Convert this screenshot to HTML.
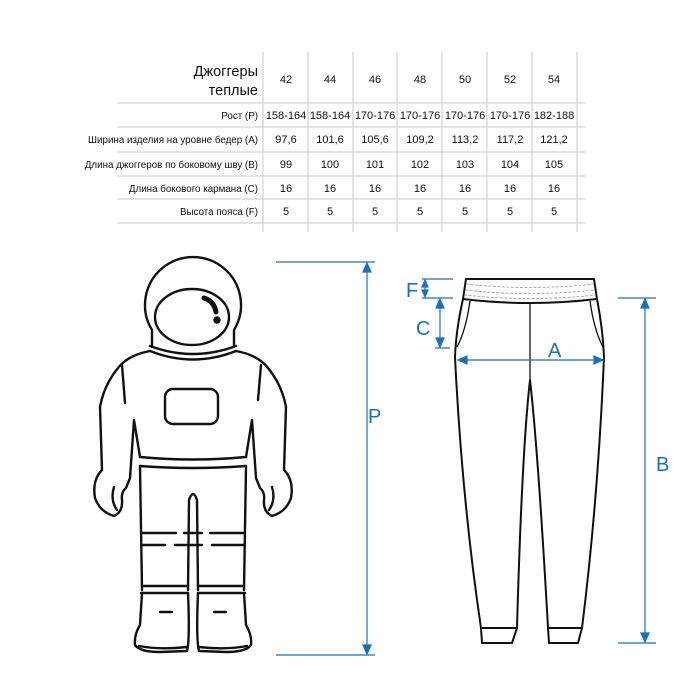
<!DOCTYPE html>
<html><head><meta charset="utf-8"><style>
body{margin:0;background:#fff;width:700px;height:700px;overflow:hidden;font-family:"Liberation Sans","DejaVu Sans",sans-serif}
svg{position:absolute;left:0;top:0}
</style></head><body>
<svg width="700" height="700" viewBox="0 0 700 700" xmlns="http://www.w3.org/2000/svg">
<g stroke="#c8c8c8" stroke-width="1">
<line x1="263" y1="52" x2="263" y2="232"/><line x1="308" y1="52" x2="308" y2="232"/>
<line x1="353" y1="52" x2="353" y2="232"/><line x1="397" y1="52" x2="397" y2="232"/>
<line x1="442" y1="52" x2="442" y2="232"/><line x1="487" y1="52" x2="487" y2="232"/>
<line x1="532" y1="52" x2="532" y2="232"/><line x1="577" y1="52" x2="577" y2="232"/>
<line x1="117" y1="103" x2="585" y2="103"/><line x1="117" y1="127" x2="585" y2="127"/>
<line x1="117" y1="152" x2="585" y2="152"/><line x1="117" y1="176" x2="585" y2="176"/>
<line x1="117" y1="199" x2="585" y2="199"/><line x1="117" y1="223" x2="585" y2="223"/>
</g>
<g font-size="11" fill="#111" text-anchor="middle">
<text x="258" y="76" font-size="14.5" text-anchor="end">Джоггеры</text>
<text x="258" y="95" font-size="14.5" text-anchor="end">теплые</text>
<text x="286" y="83">42</text><text x="330" y="83">44</text><text x="375" y="83">46</text><text x="420" y="83">48</text><text x="465" y="83">50</text><text x="510" y="83">52</text><text x="554" y="83">54</text>
<text x="258" y="119" text-anchor="end" font-size="9.8">Рост (P)</text>
<text x="286" y="119">158-164</text><text x="330" y="119">158-164</text><text x="375" y="119">170-176</text><text x="420" y="119">170-176</text><text x="465" y="119">170-176</text><text x="510" y="119">170-176</text><text x="554" y="119">182-188</text>
<text x="258" y="143" text-anchor="end" font-size="9.8">Ширина изделия на уровне бедер (A)</text>
<text x="286" y="143">97,6</text><text x="330" y="143">101,6</text><text x="375" y="143">105,6</text><text x="420" y="143">109,2</text><text x="465" y="143">113,2</text><text x="510" y="143">117,2</text><text x="554" y="143">121,2</text>
<text x="258" y="168" text-anchor="end" font-size="9.8">Длина джоггеров по боковому шву (B)</text>
<text x="286" y="168">99</text><text x="330" y="168">100</text><text x="375" y="168">101</text><text x="420" y="168">102</text><text x="465" y="168">103</text><text x="510" y="168">104</text><text x="554" y="168">105</text>
<text x="258" y="192" text-anchor="end" font-size="9.8">Длина бокового кармана (C)</text>
<text x="286" y="192">16</text><text x="330" y="192">16</text><text x="375" y="192">16</text><text x="420" y="192">16</text><text x="465" y="192">16</text><text x="510" y="192">16</text><text x="554" y="192">16</text>
<text x="258" y="215" text-anchor="end" font-size="9.8">Высота пояса (F)</text>
<text x="286" y="215">5</text><text x="330" y="215">5</text><text x="375" y="215">5</text><text x="420" y="215">5</text><text x="465" y="215">5</text><text x="510" y="215">5</text><text x="554" y="215">5</text>
</g>

<!-- astronaut -->
<g fill="none" stroke="#111" stroke-width="2.4" stroke-linecap="round" stroke-linejoin="round">
<path d="M152 347 L152 330 A48 48 0 1 1 234 330 L234 347"/>
<ellipse cx="192" cy="317" rx="37" ry="28"/>
<path d="M204 298 Q214 301 216 312" stroke-width="5"/>
<circle cx="217" cy="320" r="2.5" fill="#111"/>
<path d="M150 346 Q193 362 236 346"/>
<path d="M150 351 Q193 368 236 351"/>
<path d="M150 351 Q128 355 118 368 Q104 385 100 407 L102 470 Q92 480 95 498 Q100 512 114 516 Q123 512 122 500 Q121 492 126 488 L130 478 L134 420 L140 457"/>
<path d="M236 351 Q258 355 268 368 Q282 385 286 407 L284 470 Q294 480 291 498 Q286 512 272 516 Q263 512 264 500 Q265 492 260 488 L256 478 L252 420 L246 457"/>
<path d="M114 487 Q110 500 117 510"/><path d="M272 487 Q276 500 269 510"/>
<line x1="122" y1="365" x2="125" y2="403"/><line x1="261" y1="365" x2="258" y2="400"/>
<rect x="165" y="389" width="53" height="35" rx="8"/>
<path d="M140 457 Q193 462 246 457"/><path d="M140 466 Q193 470 246 466"/>
<path d="M140 466 L142 590"/><path d="M246 466 L244 590"/>
<path d="M188 590 L189 500 Q193 488 197 500 L198 590"/>
<path d="M142 533 L176 533 M184 533 L202 533 M210 533 L244 533"/>
<path d="M142 545 L165 545 M175 545 L202 545 M212 545 L244 545"/>
<path d="M142 586 L188 586 M198 586 L244 586"/>
<path d="M141 593 L188 593 M198 593 L245 593"/>
<path d="M142 593 L140 625 Q134 635 135 645 Q140 652 160 652 L187 651 Q190 640 188 593"/>
<path d="M244 593 L246 625 Q252 635 251 645 Q246 652 226 652 L199 651 Q196 640 198 593"/>
<path d="M139 646 Q160 650 187 647"/><path d="M247 646 Q226 650 199 647"/>
<path d="M160 612 L172 612"/><path d="M226 612 L214 612"/>
</g>
<!-- P -->
<g stroke="#1a6fc0" stroke-width="1.2" fill="#1a6fc0">
<line x1="276" y1="262" x2="375" y2="262"/><line x1="276" y1="655" x2="375" y2="655"/>
<line x1="367" y1="264" x2="367" y2="653"/>
<path d="M363 272 L367 263 L371 272Z"/><path d="M363 645 L367 654 L371 645Z"/>
</g>
<text x="368" y="423" font-size="20" fill="#1a6fc0">P</text>

<!-- pants -->
<g fill="none" stroke="#111" stroke-width="2" stroke-linejoin="round">
<path d="M466 279 L594 279 L597 299 Q603 330 604 357 Q598 500 582 628 L548 628 Q538 450 530 380 Q522 450 517 628 L481 628 Q462 500 455 357 Q456 330 463 299 Z"/>
<path d="M463 299 Q530 307 597 299"/>
<path d="M466 284 Q530 291 594 284" stroke="#999" stroke-width="0.8" stroke-dasharray="3 1.5"/>
<path d="M465 290 Q530 297 595 290" stroke="#999" stroke-width="0.8" stroke-dasharray="3 1.5"/>
<path d="M464 295 Q530 302 596 295" stroke="#999" stroke-width="0.8" stroke-dasharray="3 1.5"/>
<path d="M470 301 Q466 330 457 347" stroke-width="1.3"/>
<path d="M590 301 Q594 330 603 347" stroke-width="1.3"/>
<line x1="530" y1="303" x2="530" y2="380" stroke-width="1.3"/>
<path d="M481 628 L482 643 L512 643 L517 628"/>
<path d="M548 628 L549 643 L578 643 L582 628"/>
</g>
<g stroke="#1a6fc0" stroke-width="1.2" fill="#1a6fc0">
<line x1="422" y1="279" x2="453" y2="279"/><line x1="422" y1="298" x2="453" y2="298"/>
<line x1="425" y1="281" x2="425" y2="296"/>
<path d="M422 287 L425 280 L428 287Z"/><path d="M422 290 L425 297 L428 290Z"/>
<line x1="435" y1="348" x2="450" y2="348"/>
<line x1="440" y1="300" x2="440" y2="346"/>
<path d="M436 308 L440 299 L444 308Z"/><path d="M436 338 L440 347 L444 338Z"/>
<line x1="459" y1="360" x2="602" y2="360"/>
<path d="M467 356 L458 360 L467 364Z"/><path d="M594 356 L603 360 L594 364Z"/>
<line x1="618" y1="298" x2="656" y2="298"/><line x1="618" y1="643" x2="656" y2="643"/>
<line x1="645" y1="300" x2="645" y2="641"/>
<path d="M641 308 L645 299 L649 308Z"/><path d="M641 633 L645 642 L649 633Z"/>
</g>
<g fill="#1a6fc0" font-size="20">
<text x="406" y="297">F</text><text x="416" y="335">C</text><text x="548" y="357">A</text><text x="656" y="471">B</text>
</g>
</svg>
</body></html>
